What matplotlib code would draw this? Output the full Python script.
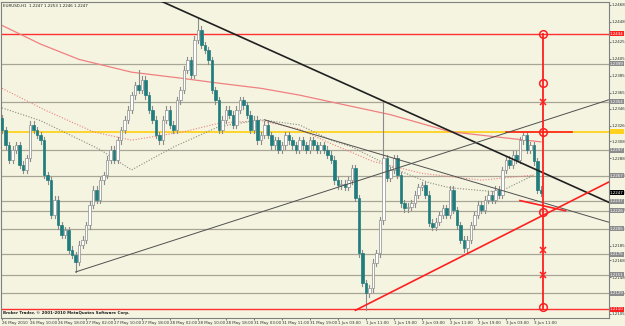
import matplotlib
matplotlib.use('Agg')
import matplotlib.pyplot as plt

# ---------------- data ----------------
closes = [1.2321,1.2303,1.2286,1.2298,1.2303,1.2280,1.2274,1.2288,1.2327,1.2321,1.2315,
          1.2309,1.2268,1.2262,1.2221,1.2239,1.2209,1.2198,1.2203,1.2180,1.2174,1.2166,
          1.2186,1.2192,1.2209,1.2233,1.2251,1.2239,1.2262,1.2268,1.2286,1.2298,1.2286,
          1.2309,1.2321,1.2333,1.2345,1.2362,1.2374,1.2368,1.2380,1.2362,1.2345,1.2333,
          1.2315,1.2309,1.2333,1.2345,1.2327,1.2321,1.2356,1.2368,1.2392,1.2403,1.2386,
          1.2427,1.2439,1.2421,1.2415,1.2403,1.2368,1.2356,1.2321,1.2333,1.2345,1.2339,
          1.2327,1.2345,1.2356,1.2350,1.2339,1.2321,1.2333,1.2309,1.2315,1.2327,1.2315,
          1.2303,1.2309,1.2298,1.2303,1.2315,1.2309,1.2303,1.2298,1.2309,1.2303,1.2298,
          1.2309,1.2303,1.2298,1.2303,1.2298,1.2292,1.2286,1.2262,1.2256,1.2258,1.2254,
          1.2262,1.2276,1.2241,1.2176,1.2141,1.2129,1.2135,1.2165,1.2176,1.2215,1.2288,
          1.2265,1.2274,1.2288,1.2268,1.2235,1.2229,1.2231,1.2235,1.2245,1.2254,1.2256,
          1.2245,1.2212,1.2207,1.2213,1.2221,1.2229,1.2221,1.2251,1.2227,1.2209,1.2192,
          1.2182,1.2192,1.2209,1.2221,1.2233,1.2227,1.2239,1.2245,1.2239,1.2251,1.2245,
          1.2274,1.2286,1.2280,1.2292,1.2286,1.2309,1.2315,1.2298,1.2303,1.2284,1.2251,1.2247]
opens = [1.2335] + closes[:-1]
highs = [max(o, c) + 0.0004 for o, c in zip(opens, closes)]
lows = [min(o, c) - 0.0004 for o, c in zip(opens, closes)]
highs[56] = 1.2453
highs[109] = 1.2355
lows[21] = 1.2154
lows[104] = 1.2109
highs[39] = 1.2392

xlabels = ["26 May 2010", "26 May 10:00", "26 May 18:00", "27 May 02:00", "27 May 10:00",
           "27 May 18:00", "28 May 02:00", "28 May 10:00", "28 May 18:00", "31 May 03:00",
           "31 May 11:00", "31 May 19:00", "1 Jun 03:00", "1 Jun 11:00", "1 Jun 19:00",
           "2 Jun 03:00", "2 Jun 11:00", "2 Jun 19:00", "3 Jun 03:00", "3 Jun 11:00"]
ylabels = ["1.2468", "1.2448", "1.2425", "1.2405", "1.2385", "1.2365", "1.2346", "1.2326",
           "1.2308", "1.2288", "1.2268", "1.2248", "1.2228", "1.2205", "1.2185", "1.2168",
           "1.2148", "1.2127", "1.2105"]

gray_levels = [1.2399, 1.2354, 1.2297, 1.2267, 1.2237, 1.2226, 1.2205, 1.2175, 1.2151, 1.2129]
red_levels = [1.2434, 1.2110]
yellow_level = 1.2319
current_price = 1.2247

# moving averages sampled (bar, value)
ma_red_x = [0, 11, 22, 37, 51, 62, 74, 85, 94, 111, 128, 154]
ma_red_y = [1.2444, 1.2422, 1.2404, 1.2389, 1.2382, 1.2376, 1.2370, 1.2362, 1.2354, 1.2339, 1.2319, 1.2307]
ma_dot_red_x = [0, 12, 26, 37, 52, 62, 74, 85, 94, 106, 120, 137, 152]
ma_dot_red_y = [1.2370, 1.2345, 1.2319, 1.2309, 1.2319, 1.2329, 1.2332, 1.2322, 1.2305, 1.2284, 1.2270, 1.2262, 1.2268]
ma_dot_gray_x = [0, 11, 28, 37, 49, 62, 74, 85, 94, 100, 113, 122, 128, 142, 152]
ma_dot_gray_y = [1.2347, 1.2332, 1.2298, 1.2274, 1.2301, 1.2325, 1.2333, 1.2327, 1.2309, 1.2301, 1.2274, 1.2259, 1.2253, 1.2248, 1.2268]

# trend lines (bar, price) pairs
black_line = [(56, 1.2453), (109, 1.2355)]
thin_line = [(21, 1.2154), (173, 1.2356)]
thin_line2 = [(75, 1.2333), (173, 1.2213)]
red_line = [(101, 1.2109), (173, 1.2259)]
red_short = [(148, 1.2238), (161, 1.2226)]

vert_bar = 154.6
circle_levels = [1.2434, 1.2376, 1.2319, 1.2225, 1.2113]
cross_levels = [1.2354, 1.2180, 1.2151]

# ---------------- drawing ----------------
BG = '#F4F4E1'
FS = 2.9
fig = plt.figure(figsize=(6.25, 3.26), dpi=100)
fig.patch.set_facecolor(BG)
ax = fig.add_axes([1 / 625, 8 / 326, 607.5 / 625, 316 / 326])
ax.set_facecolor(BG)
ax.set_xlim(-0.29, 173.3)
ax.set_ylim(1.20999, 1.24715)

def extend(p, x_end, x_start):
    (x0, y0), (x1, y1) = p
    s = (y1 - y0) / (x1 - x0)
    return [x_start, x_end], [y0 + s * (x_start - x0), y0 + s * (x_end - x0)]

for lv in gray_levels:
    ax.axhline(lv, color='#A9A596', lw=0.9, zorder=1)
for lv in red_levels:
    ax.axhline(lv, color='#FF3030', lw=1.0, zorder=1)
ax.axhline(yellow_level, color='#FFD21F', lw=1.3, zorder=1)
ax.plot([144, 163], [yellow_level, yellow_level], color='#FF2020', lw=1.2, zorder=5)

ax.plot(ma_red_x, ma_red_y, color='#F08080', lw=0.9, zorder=2)
ax.plot(ma_dot_red_x, ma_dot_red_y, color='#F08080', lw=0.8, ls=(0, (1, 1.5)), zorder=2)
ax.plot(ma_dot_gray_x, ma_dot_gray_y, color='#8A8A80', lw=0.8, ls=(0, (1, 1.5)), zorder=2)

for i, (o, h, l, c) in enumerate(zip(opens, highs, lows, closes)):
    ax.plot([i, i], [l, h], color='#8C8C8C', lw=0.8, zorder=3)
    if c >= o:
        fc, ec = 'white', '#8C8C8C'
    else:
        fc, ec = '#217C7E', '#217C7E'
    ax.bar(i, max(abs(c - o), 0.00004), bottom=min(o, c), width=0.7,
           facecolor=fc, edgecolor=ec, linewidth=0.5, zorder=4)

xs, ys = extend(black_line, 173.3, 43)
ax.plot(xs, ys, color='#202020', lw=1.2, zorder=5)
xs, ys = extend(thin_line, 173.3, 21)
ax.plot(xs, ys, color='#505050', lw=0.7, zorder=5)
xs, ys = extend(thin_line2, 173.3, 75)
ax.plot(xs, ys, color='#505050', lw=0.7, zorder=5)
xs, ys = extend(red_line, 173.3, 101)
ax.plot(xs, ys, color='#FF2020', lw=1.2, zorder=5)
ax.plot([p[0] for p in red_short], [p[1] for p in red_short], color='#FF2020', lw=1.2, zorder=5)

ax.plot([vert_bar, vert_bar], [1.2110, 1.2434], color='#FF2020', lw=1.3, zorder=6)
ax.plot([vert_bar] * len(circle_levels), circle_levels, ls='none', marker='o', ms=5.5,
        mfc='none', mec='#FF2020', mew=1.1, zorder=7)
ax.plot([vert_bar] * len(cross_levels), cross_levels, ls='none', marker='x', ms=4.5,
        mec='#FF2020', mew=1.1, zorder=7)

for sp in ax.spines.values():
    sp.set_color('#808080')
    sp.set_linewidth(0.8)

ax.yaxis.tick_right()
ax.set_yticks([float(t) for t in ylabels])
ax.set_yticklabels(ylabels)
ax.set_xticks(list(range(0, 8 * len(xlabels), 8)))
ax.set_xticklabels(xlabels)
ax.tick_params(axis='y', labelsize=FS, length=1.5, width=0.6, color='#606060',
               labelcolor='#303030', pad=0.8)
ax.tick_params(axis='x', labelsize=FS, length=1.5, width=0.6, color='#606060',
               labelcolor='#303030', pad=0.5)
for lab in ax.get_xticklabels():
    lab.set_horizontalalignment('left')

tr = ax.get_yaxis_transform()
def box(val, fc, tc='white'):
    ax.text(1.0025, val, f"{val:.4f}", transform=tr, fontsize=FS, color=tc, va='center',
            ha='left', bbox=dict(boxstyle='square,pad=0.12', fc=fc, ec='none'), zorder=10,
            clip_on=False)
for lv in gray_levels:
    box(lv, '#8C8C8C')
box(1.2434, '#FF2020')
box(1.2110, '#FF2020')
box(yellow_level, '#FFD21F', '#FFD21F')
box(current_price, '#000000')

ax.text(0.004, 0.993, "EURUSD,H1  1.2247 1.2253 1.2246 1.2247", transform=ax.transAxes,
        fontsize=FS, color='#202020', va='top', ha='left')
ax.text(0.003, 0.008, "Broker Trader, © 2001-2010 MetaQuotes Software Corp.",
        transform=ax.transAxes, fontsize=FS, color='#202020', va='bottom', ha='left',
        fontweight='bold')

fig.savefig('out.png', dpi=100, facecolor=BG)
